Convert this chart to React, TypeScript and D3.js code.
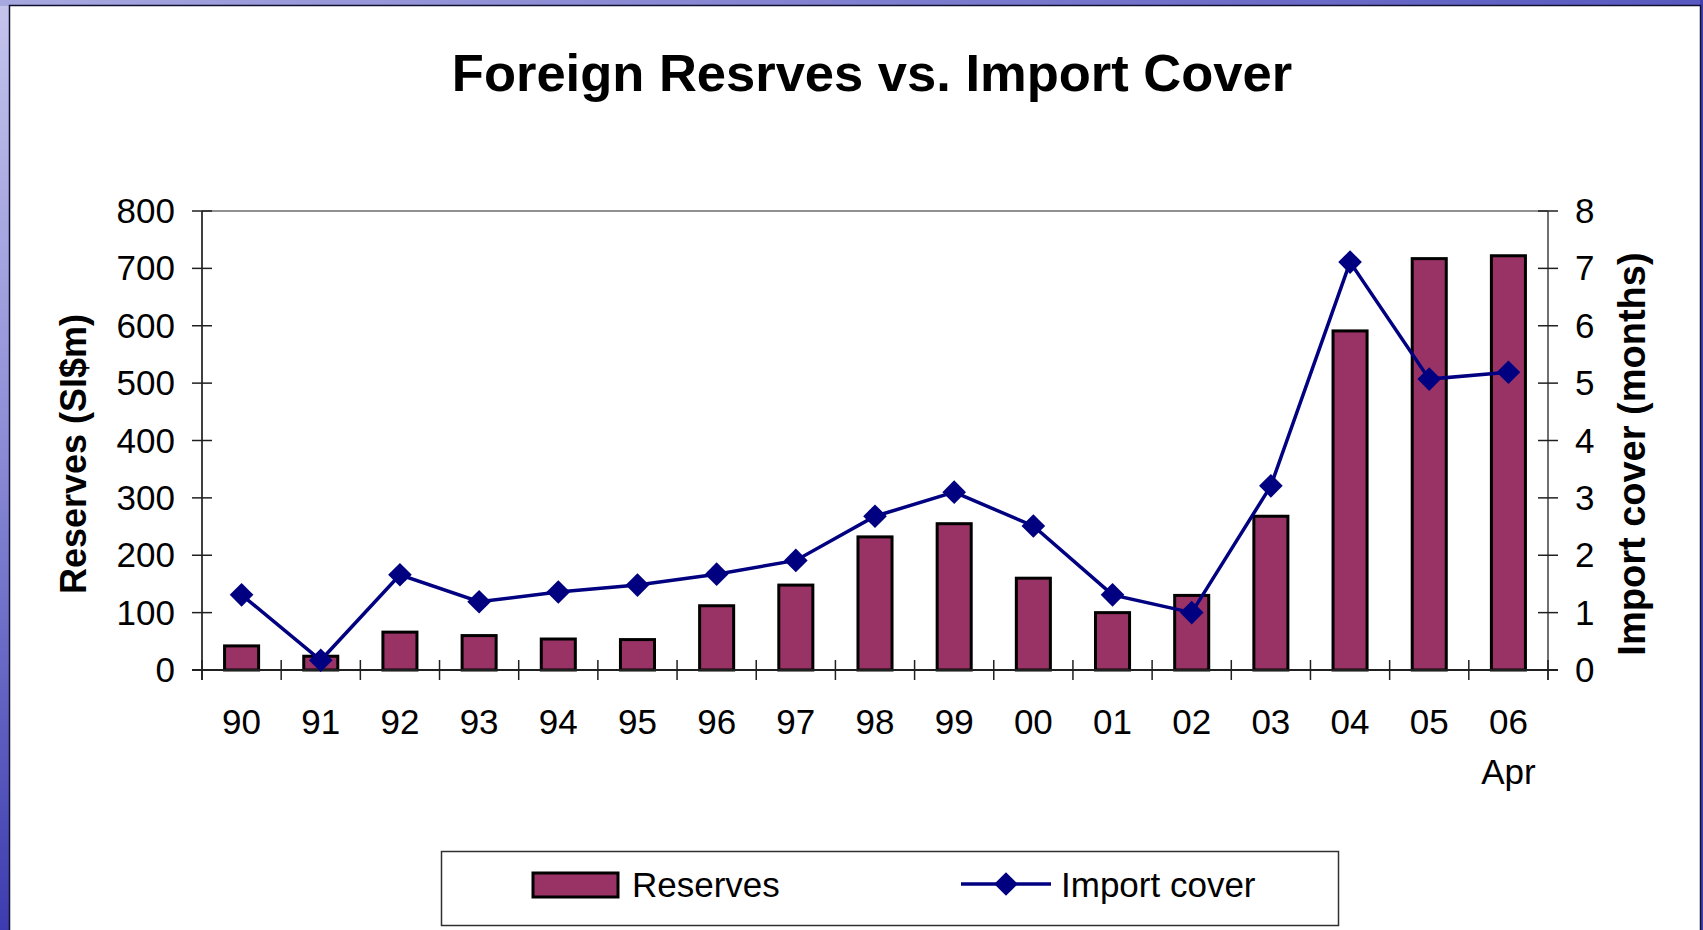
import React from 'react';
import * as d3 from 'd3';

const categories = ['90', '91', '92', '93', '94', '95', '96', '97', '98', '99', '00', '01', '02', '03', '04', '05', '06'];
const reserves = [42, 24, 66, 60, 54, 53, 112, 148, 232, 255, 160, 100, 130, 268, 591, 717, 722];
const importCover = [1.31, 0.17, 1.66, 1.19, 1.36, 1.48, 1.67, 1.91, 2.68, 3.1, 2.51, 1.31, 1.0, 3.21, 7.11, 5.07, 5.19];
const leftTicks = [0, 100, 200, 300, 400, 500, 600, 700, 800];
const rightTicks = [0, 1, 2, 3, 4, 5, 6, 7, 8];

const W = 1703;
const H = 930;
const plot = { left: 202, right: 1548, top: 211, bottom: 670 };
const FONT = 'Arial, "Liberation Sans", Helvetica, sans-serif';
const BAR = '#993366';
const LINE = '#000080';

const App: React.FC = () => {
  const x = d3
    .scaleBand<string>()
    .domain(categories)
    .range([plot.left, plot.right])
    .paddingInner(0.57)
    .paddingOuter(0.285);
  const step = (plot.right - plot.left) / categories.length;
  const yL = d3.scaleLinear().domain([0, 800]).range([plot.bottom, plot.top]);
  const yR = d3.scaleLinear().domain([0, 8]).range([plot.bottom, plot.top]);
  const cx = (c: string) => x(c)! + x.bandwidth() / 2;

  const line = d3
    .line<number>()
    .x((_, i) => cx(categories[i]))
    .y((d) => yR(d));
  const diamond = d3.symbol(d3.symbolSquare, 280)()!;

  return (
    <div style={{ position: 'fixed', left: 0, top: 0 }}>
      <svg width={W} height={H} style={{ display: 'block' }} fontFamily={FONT}>
        <defs>
          <linearGradient id="leftBg" x1="0" y1="0" x2="0" y2="1">
            <stop offset="0" stopColor="#c4c4ec" />
            <stop offset="0.45" stopColor="#9090d8" />
            <stop offset="1" stopColor="#3c3cb0" />
          </linearGradient>
          <linearGradient id="topBg" x1="0" y1="0" x2="1" y2="0">
            <stop offset="0" stopColor="#a8a8e0" />
            <stop offset="1" stopColor="#5858c0" />
          </linearGradient>
        </defs>
        <rect x={0} y={0} width={W} height={H} fill="url(#leftBg)" />
        <rect x={0} y={0} width={W} height={6} fill="url(#topBg)" />
        <rect x={1700} y={0} width={3} height={H} fill="#4040b0" />
        <rect x={9.5} y={5.5} width={1691} height={H} fill="#ffffff" stroke="#101030" strokeWidth={1.5} />

        <text x={872} y={91} textAnchor="middle" fontSize={52.5} fontWeight="bold" fill="#000">
          Foreign Resrves vs. Import Cover
        </text>

        {/* plot frame */}
        <line x1={plot.left} x2={plot.right} y1={plot.top} y2={plot.top} stroke="#909090" strokeWidth={2} />
        <line x1={plot.left} x2={plot.left} y1={plot.top} y2={plot.bottom + 10} stroke="#404040" strokeWidth={2} />
        <line x1={plot.right} x2={plot.right} y1={plot.top} y2={plot.bottom + 10} stroke="#707070" strokeWidth={2} />

        {/* bars */}
        {reserves.map((v, i) => (
          <rect
            key={categories[i]}
            x={x(categories[i])}
            y={yL(v)}
            width={x.bandwidth()}
            height={plot.bottom - yL(v)}
            fill={BAR}
            stroke="#000"
            strokeWidth={3}
          />
        ))}

        <line x1={plot.left - 10} x2={plot.right + 10} y1={plot.bottom} y2={plot.bottom} stroke="#202020" strokeWidth={2} />

        {/* left ticks */}
        {leftTicks.map((t) => (
          <g key={'l' + t}>
            <line x1={plot.left - 10} x2={plot.left + 10} y1={yL(t)} y2={yL(t)} stroke="#202020" strokeWidth={1.5} />
            <text x={175} y={yL(t) + 12} textAnchor="end" fontSize={35} fill="#000">
              {t}
            </text>
          </g>
        ))}
        {/* right ticks */}
        {rightTicks.map((t) => (
          <g key={'r' + t}>
            <line x1={plot.right - 10} x2={plot.right + 10} y1={yR(t)} y2={yR(t)} stroke="#202020" strokeWidth={1.5} />
            <text x={1575} y={yR(t) + 12} textAnchor="start" fontSize={35} fill="#000">
              {t}
            </text>
          </g>
        ))}
        {/* category ticks */}
        {d3.range(categories.length + 1).map((i) => (
          <line
            key={'c' + i}
            x1={plot.left + i * step}
            x2={plot.left + i * step}
            y1={plot.bottom - 10}
            y2={plot.bottom + 10}
            stroke="#202020"
            strokeWidth={1.5}
          />
        ))}
        {categories.map((c) => (
          <text key={'t' + c} x={cx(c)} y={734} textAnchor="middle" fontSize={35} fill="#000">
            {c}
          </text>
        ))}
        <text x={cx('06')} y={784} textAnchor="middle" fontSize={35} fill="#000">
          Apr
        </text>

        {/* line series */}
        <path d={line(importCover)!} fill="none" stroke={LINE} strokeWidth={3.5} />
        {importCover.map((v, i) => (
          <path key={'m' + i} d={diamond} transform={`translate(${cx(categories[i])},${yR(v)}) rotate(45)`} fill={LINE} />
        ))}

        {/* axis titles */}
        <text
          transform="translate(86,454) rotate(-90)"
          textAnchor="middle"
          fontSize={36}
          fontWeight="bold"
          fill="#000"
        >
          Reserves (SI$m)
        </text>
        <text
          transform="translate(1645,454) rotate(-90)"
          textAnchor="middle"
          fontSize={38}
          fontWeight="bold"
          fill="#000"
        >
          Import cover (months)
        </text>

        {/* legend */}
        <rect x={441.5} y={851.5} width={897} height={74} fill="#fff" stroke="#303030" strokeWidth={1.5} />
        <rect x={533} y={873} width={85} height={24} fill={BAR} stroke="#000" strokeWidth={3} />
        <text x={632} y={897} fontSize={35} fill="#000">
          Reserves
        </text>
        <line x1={961} x2={1051} y1={884} y2={884} stroke={LINE} strokeWidth={3.5} />
        <path d={diamond} transform="translate(1006,884) rotate(45)" fill={LINE} />
        <text x={1061} y={897} fontSize={35} fill="#000">
          Import cover
        </text>
      </svg>
    </div>
  );
};

export default App;
